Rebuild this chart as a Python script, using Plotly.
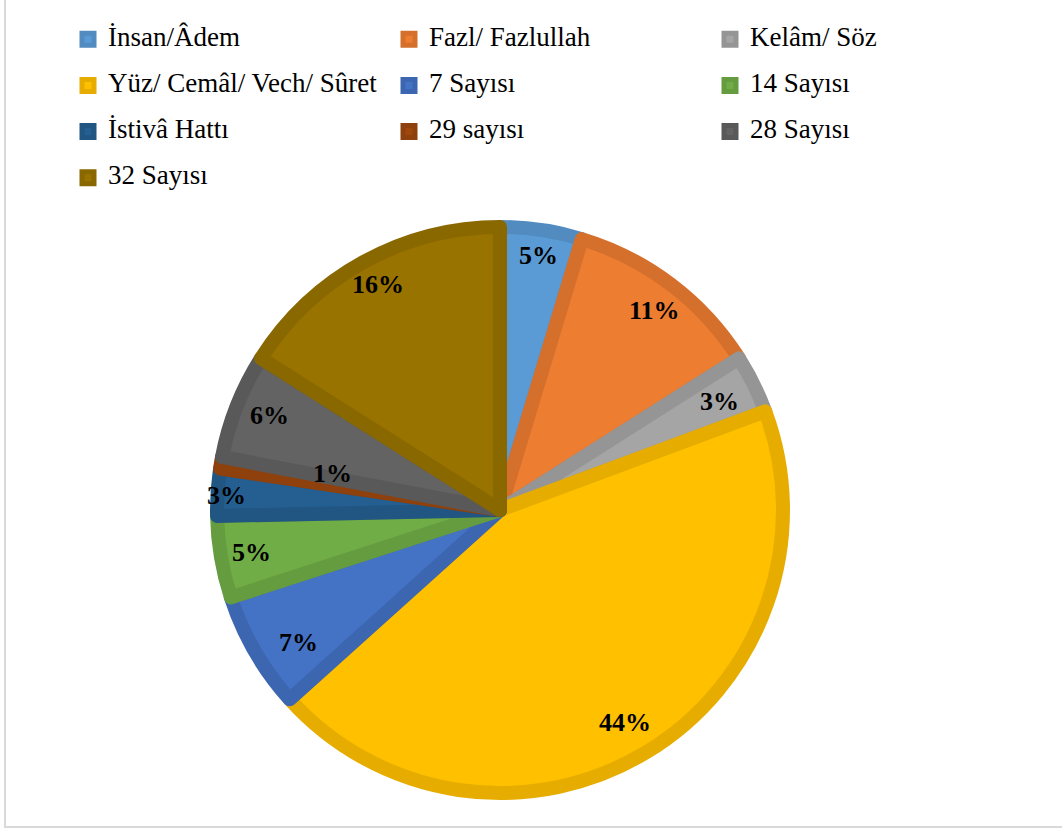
import math
import plotly.graph_objects as go

# ---- data ----
labels = ["İnsan/Âdem", "Fazl/ Fazlullah", "Kelâm/ Söz",
          "Yüz/ Cemâl/ Vech/ Sûret", "7 Sayısı", "14 Sayısı",
          "İstivâ Hattı", "29 sayısı", "28 Sayısı", "32 Sayısı"]
counts = [7, 17, 5, 66, 10, 7, 4, 1, 9, 24]

# ---- styles ----
fill_colors = ["#5B9BD5", "#ED7D31", "#A5A5A5", "#FFC000", "#4472C4",
               "#70AD47", "#255E91", "#9E480E", "#636363", "#997300"]
border_colors = ["#518BC0", "#D5702C", "#959595", "#E6AD00", "#3D66B0",
                 "#659C40", "#215582", "#8E410D", "#595959", "#8A6800"]
label_radius = [0.889, 0.872, 0.845, 0.849, 0.832, 0.868, 0.943, 0.593, 0.858, 0.883]
label_angle_shift = [0.1, 0.6, 0.2, 0.7, -3.2, -0.2, -0.5, 2.8, 0.8, 0.3]

W, H = 1062, 830
CX, CY = 500, 510          # pie centre in px (from top-left)
R_OUT = 290                # outer radius incl. border
LINE_W = 14
R_PIE = R_OUT - LINE_W / 2
FONT = "Liberation Serif"

# legend entries: 27px text line plus a tiny spacer line (gives Excel-like row spacing)
legend_names = [f'<span style="font-size:27px">{l}</span><br><span style="font-size:2px"> </span>'
                for l in labels]

fig = go.Figure(go.Pie(
    labels=legend_names,
    values=counts,
    sort=False,
    direction="clockwise",
    rotation=0,
    marker=dict(colors=fill_colors, line=dict(color=border_colors, width=LINE_W)),
    textinfo="none",
    hoverinfo="percent",
    domain=dict(x=[(CX - R_PIE) / W, (CX + R_PIE) / W],
                y=[(H - CY - R_PIE) / H, (H - CY + R_PIE) / H]),
))

total = sum(counts)
annotations = []
cum = 0
for v, rf, dth in zip(counts, label_radius, label_angle_shift):
    mid = math.radians((cum + v / 2) / total * 360 + dth)
    cum += v
    r = rf * R_OUT
    px = CX + r * math.sin(mid)
    py = CY - r * math.cos(mid)
    annotations.append(dict(
        x=px / W, y=1 - py / H, xref="paper", yref="paper",
        text=f"{round(v / total * 100)}%", showarrow=False,
        xanchor="center", yanchor="middle",
        font=dict(family=FONT, size=26, color="black", weight="bold"),
    ))

fig.update_layout(
    width=W, height=H,
    margin=dict(l=0, r=0, t=0, b=0),
    paper_bgcolor="white",
    plot_bgcolor="white",
    font=dict(family=FONT),
    annotations=annotations,
    showlegend=True,
    legend=dict(
        orientation="h",
        x=68 / W, y=1 - 22 / H, xanchor="left", yanchor="top",
        entrywidth=276, entrywidthmode="pixels",
        font=dict(family=FONT, size=16.6, color="black"),
        valign="top",
        bgcolor="rgba(0,0,0,0)",
        traceorder="normal",
    ),
    shapes=[dict(type="rect", xref="paper", yref="paper",
                 x0=5 / W, x1=1.05, y0=(H - 827) / H, y1=1.05,
                 line=dict(color="#D9D9D9", width=2), fillcolor="rgba(0,0,0,0)",
                 layer="below")],
)

fig.write_html("out.html", config={"displayModeBar": False},
               post_script="document.body.style.margin='0';")
